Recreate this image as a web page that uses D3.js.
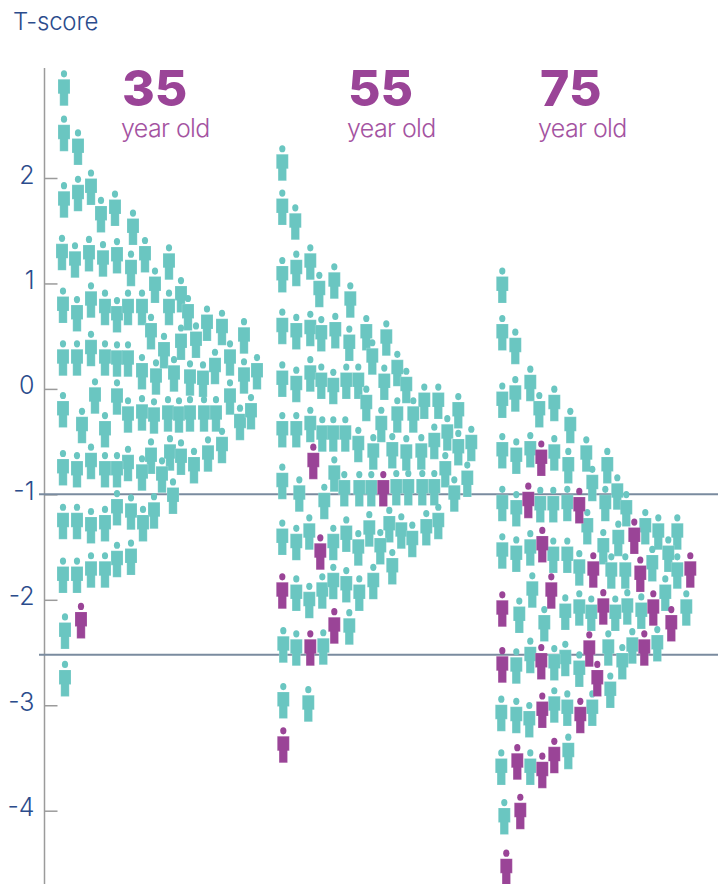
<!DOCTYPE html>
<html>
<head>
<meta charset="utf-8">
<script src="https://cdnjs.cloudflare.com/ajax/libs/d3/7.8.5/d3.min.js"></script>
<style>
  html, body { margin: 0; background: #fff; }
  svg { display: block; }
  text { font-family: Inter, "Open Sans", sans-serif; }
  .axis path, .axis line { stroke: #9b9b9b; stroke-width: 1.5; }
  .axis text { font-size: 25px; font-weight: 300; fill: #2b4c8c; }
</style>
</head>
<body>
<div id="chart"></div>
<script>
const ageLabels = ['35', '55', '75'];
const tickValues = [2, 1, 0, -1, -2, -3, -4];
const thresholds = [-1, -2.52];

// each person: [offset along the swarm, T-score]
const normal35 = [[0,2.85],[0,2.42],[14,2.29],[0,1.79],[14,1.85],[27,1.91],[37,1.65],[51,1.71],[69,1.53],[-2,1.29],[11,1.22],[25,1.28],[39,1.23],[53,1.26],[67,1.14],[81,1.27],[91,0.98],[105,1.20],[117,0.89],[124,0.72],[-1,0.79],[13,0.71],[27,0.84],[41,0.77],[53,0.70],[64,0.77],[78,0.77],[105,0.77],[143,0.62],[158,0.58],[180,0.50],[87,0.54],[117,0.44],[132,0.46],[100,0.36],[27,0.38],[-1,0.29],[13,0.29],[41,0.29],[53,0.28],[64,0.28],[78,0.16],[92,0.11],[110,0.14],[126,0.10],[139,0.09],[151,0.21],[166,0.29],[180,0.12],[193,0.16],[31,-0.07],[53,-0.08],[166,-0.08],[-1,-0.20],[18,-0.35],[41,-0.39],[64,-0.25],[78,-0.23],[90,-0.26],[104,-0.24],[115,-0.25],[126,-0.24],[140,-0.24],[152,-0.24],[176,-0.32],[187,-0.22],[158,-0.54],[106,-0.61],[144,-0.62],[87,-0.64],[117,-0.65],[27,-0.69],[64,-0.71],[-1,-0.75],[13,-0.77],[41,-0.77],[53,-0.77],[130,-0.73],[78,-0.80],[98,-0.82],[109,-1.02],[53,-1.13],[67,-1.17],[90,-1.16],[-1,-1.26],[13,-1.26],[27,-1.30],[41,-1.28],[79,-1.28],[53,-1.62],[67,-1.60],[-1,-1.77],[13,-1.77],[27,-1.72],[41,-1.72],[1,-2.30],[1,-2.75]];
const fracture35 = [[17,-2.20]];

const normal55 = [[0,2.14],[0,1.72],[13,1.58],[0,1.08],[14,1.14],[28,1.20],[37,0.94],[52,1.02],[68,0.84],[0,0.59],[14,0.54],[28,0.57],[39,0.52],[53,0.55],[67,0.43],[84,0.53],[90,0.30],[104,0.48],[115,0.19],[0,0.09],[14,0.04],[28,0.14],[39,0.07],[51,0.02],[64,0.07],[76,0.07],[102,0.06],[124,0.03],[84,-0.14],[142,-0.12],[156,-0.12],[176,-0.21],[115,-0.25],[131,-0.25],[99,-0.34],[0,-0.39],[14,-0.39],[28,-0.34],[40,-0.43],[51,-0.43],[63,-0.43],[165,-0.42],[76,-0.53],[152,-0.50],[176,-0.56],[189,-0.52],[91,-0.60],[110,-0.59],[124,-0.61],[139,-0.60],[163,-0.77],[52,-0.81],[185,-0.86],[0,-0.88],[62,-0.95],[77,-0.95],[89,-0.95],[114,-0.94],[126,-0.94],[140,-0.94],[152,-0.94],[17,-1.00],[172,-1.00],[42,-1.07],[156,-1.26],[107,-1.29],[27,-1.36],[144,-1.32],[87,-1.33],[119,-1.35],[0,-1.41],[64,-1.38],[130,-1.43],[14,-1.46],[51,-1.46],[98,-1.50],[76,-1.51],[110,-1.69],[14,-1.94],[27,-2.01],[40,-1.92],[51,-1.83],[64,-1.86],[77,-1.94],[91,-1.83],[67,-2.26],[1,-2.43],[14,-2.46],[41,-2.45],[1,-2.96],[26,-2.99]];
const fracture55 = [[31,-0.69],[101,-0.95],[38,-1.55],[0,-1.92],[52,-2.25],[28,-2.46],[1,-3.38]];

const normal75 = [[0,0.98],[0,0.53],[13,0.40],[28,0.05],[13,-0.05],[0,-0.11],[37,-0.20],[52,-0.14],[68,-0.35],[0,-0.59],[14,-0.64],[28,-0.58],[52,-0.61],[66,-0.73],[84,-0.62],[90,-0.90],[105,-0.73],[115,-0.98],[0,-1.09],[14,-1.14],[38,-1.10],[51,-1.10],[65,-1.09],[103,-1.09],[124,-1.14],[85,-1.31],[143,-1.31],[156,-1.36],[175,-1.36],[116,-1.42],[101,-1.50],[28,-1.51],[0,-1.54],[14,-1.57],[51,-1.58],[65,-1.58],[166,-1.57],[150,-1.66],[77,-1.70],[109,-1.73],[123,-1.73],[175,-1.73],[30,-1.91],[163,-1.94],[125,-2.07],[77,-2.08],[184,-2.08],[139,-2.11],[63,-2.12],[89,-2.13],[113,-2.13],[17,-2.15],[42,-2.23],[155,-2.42],[130,-2.44],[106,-2.46],[28,-2.53],[120,-2.59],[63,-2.56],[52,-2.60],[14,-2.63],[77,-2.66],[108,-2.86],[52,-3.00],[90,-3.03],[65,-3.03],[-1,-3.08],[14,-3.10],[27,-3.14],[66,-3.44],[-1,-3.59],[28,-3.59],[2,-4.06]];
const fracture75 = [[39,-0.66],[26,-1.06],[77,-1.11],[132,-1.40],[40,-1.48],[91,-1.72],[138,-1.76],[188,-1.72],[49,-1.92],[101,-2.07],[151,-2.08],[0,-2.09],[169,-2.23],[142,-2.46],[87,-2.47],[39,-2.59],[0,-2.62],[95,-2.75],[40,-3.05],[78,-3.10],[52,-3.48],[15,-3.54],[40,-3.62],[18,-4.01],[4,-4.54]];

const width = 718;
const height = 884;
const teal = '#6ac6c1';
const purple = '#9a4497';
const panels = [
  { age: ageLabels[0], normal: normal35, fracture: fracture35, x0: 64, labelX: 122, subX: 121 },
  { age: ageLabels[1], normal: normal55, fracture: fracture55, x0: 282.3, labelX: 348, subX: 347 },
  { age: ageLabels[2], normal: normal75, fracture: fracture75, x0: 502.3, labelX: 540, subX: 538 }
];

const yScale = d3.scaleLinear().domain([2, -4]).range([178, 810.7]);

const svg = d3.select('#chart')
  .append('svg')
  .attr('width', width)
  .attr('height', height);

svg.append('text')
  .text('T-score')
  .attr('x', 13)
  .attr('y', 30)
  .attr('font-size', 24)
  .attr('font-weight', 300)
  .attr('letter-spacing', -0.2)
  .attr('fill', '#2b4c8c');

// Axis
const axis = svg.append('g')
  .attr('class', 'axis')
  .attr('transform', 'translate(44.5,0)')
  .call(d3.axisLeft(yScale).tickValues(tickValues).tickFormat(d3.format('d')).tickSizeInner(-13).tickSizeOuter(0).tickPadding(10));
axis.select('.domain').attr('d', 'M0,68V884');
axis.selectAll('text').attr('dy', '0.2em').text(d => String(d));

// Threshold lines
svg.selectAll('.threshold')
  .data(thresholds)
  .enter()
  .append('line')
  .attr('class', 'threshold')
  .attr('x1', 39)
  .attr('x2', width)
  .attr('y1', d => yScale(d))
  .attr('y2', d => yScale(d))
  .attr('stroke', '#7a8b9f')
  .attr('stroke-width', 2);

const bodyPath = 'M-6,-9H6V5.5H4.2V17.5H-4.2V5.5H-6Z';

function drawPeople(g, data, xScale, color, cls) {
  const person = g.selectAll('.' + cls)
    .data(data)
    .enter()
    .append('g')
    .attr('class', cls)
    .attr('transform', d => 'translate(' + xScale(d[0]) + ',' + yScale(d[1]) + ')');

  person.append('ellipse')
    .attr('cy', -14.5)
    .attr('rx', 3.1)
    .attr('ry', 3.6)
    .attr('fill', color);

  person.append('path')
    .attr('d', bodyPath)
    .attr('fill', color)
    .attr('stroke', '#fff')
    .attr('stroke-opacity', 0.35)
    .attr('stroke-width', 0.5);
}

panels.forEach(p => {
  const xScale = d3.scaleLinear().domain([0, 200]).range([p.x0, p.x0 + 200]);
  const g = svg.append('g');

  drawPeople(g, p.normal, xScale, teal, 'normal');
  drawPeople(g, p.fracture, xScale, purple, 'fracture');

  g.append('text')
    .text(p.age)
    .attr('x', p.labelX)
    .attr('y', 106)
    .attr('font-size', 50)
    .attr('font-weight', 800)
    .attr('fill', purple);

  g.append('text')
    .text('year old')
    .attr('x', p.subX)
    .attr('y', 137)
    .attr('font-size', 25)
    .attr('font-weight', 300)
    .attr('letter-spacing', -0.6)
    .attr('fill', '#a453a1');
});
</script>
</body>
</html>
